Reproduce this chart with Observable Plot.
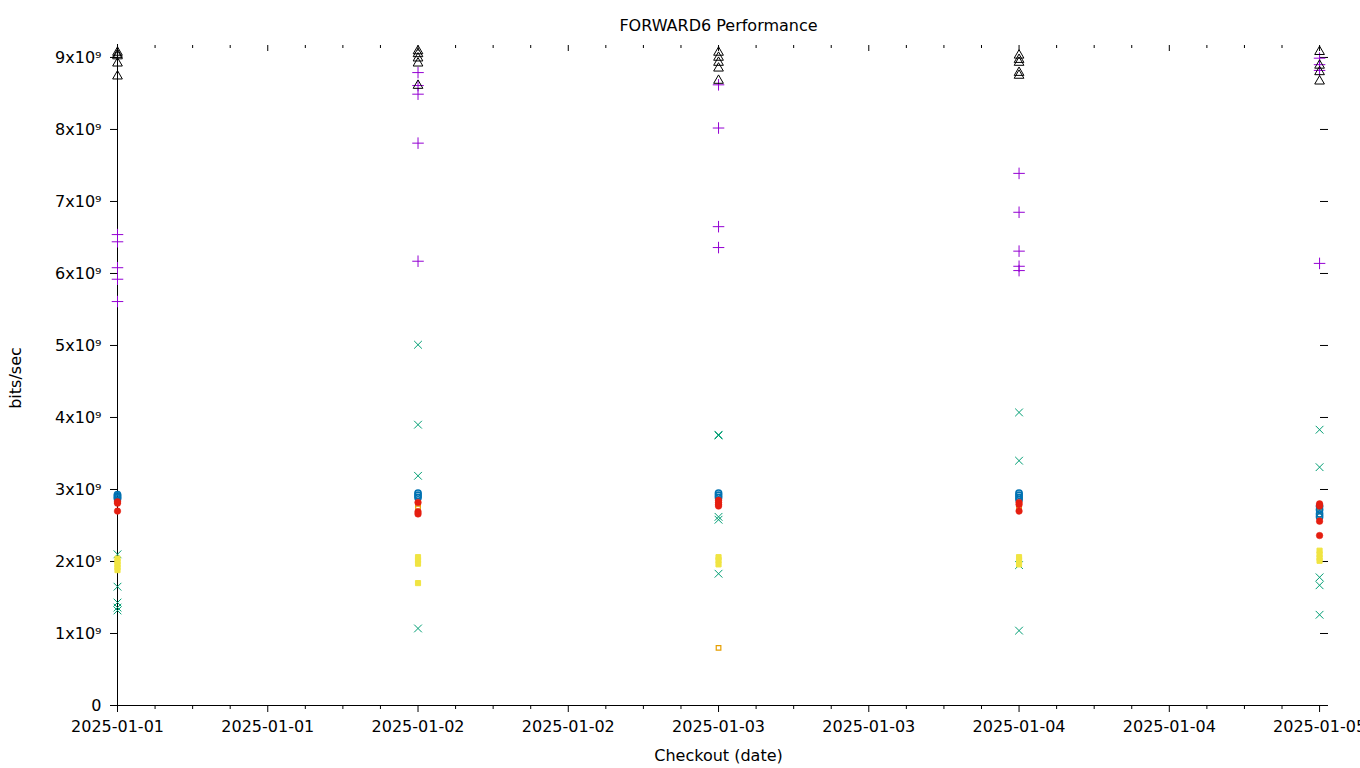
<!DOCTYPE html>
<html>
<head>
<meta charset="utf-8">
<script src="https://cdn.jsdelivr.net/npm/d3@7"></script>
<script src="https://cdn.jsdelivr.net/npm/@observablehq/plot@0.6"></script>
<style>
  body { margin: 0; background: #fff; }
</style>
</head>
<body>
<div id="chart"></div>
<script>
// ---- data (values in units of 1e9 bits/sec) ----
const dates = ["2025-01-01", "2025-01-02", "2025-01-03", "2025-01-04", "2025-01-05"];

const plusSeries = [      // purple "+"
  [6.54, 6.44, 6.08, 5.92, 5.61],
  [8.79, 8.61, 8.49, 7.81, 6.17],
  [8.62, 8.02, 6.65, 6.36],
  [7.39, 6.85, 6.31, 6.10, 6.04],
  [8.99, 8.90, 8.82, 6.14]
];
const timesSeries = [     // green "x"
  [2.10, 1.65, 1.43, 1.36, 1.32],
  [5.01, 3.90, 3.19, 1.07],
  [3.76, 3.75, 2.62, 2.58, 1.83],
  [4.07, 3.40, 1.95, 1.04],
  [3.83, 3.31, 1.78, 1.67, 1.26]
];
const openSquareSeries = [ // orange open squares
  [2.85],
  [2.80, 2.76],
  [2.84, 0.80],
  [2.80, 2.75],
  [2.70, 2.65]
];
const filledSquareSeries = [ // yellow filled squares
  [2.04, 2.00, 1.96, 1.92, 1.88],
  [2.06, 2.02, 1.97, 1.70],
  [2.06, 2.02, 1.96],
  [2.06, 2.02, 1.96],
  [2.15, 2.10, 2.05, 2.01]
];
const openCircleSeries = [ // blue open circles
  [2.93, 2.91, 2.89, 2.87],
  [2.95, 2.92, 2.89],
  [2.95, 2.92, 2.89],
  [2.95, 2.92, 2.89, 2.86],
  [2.77, 2.72, 2.66, 2.62]
];
const filledCircleSeries = [ // red filled circles
  [2.83, 2.81, 2.70],
  [2.82, 2.69, 2.66],
  [2.85, 2.82, 2.79, 2.77],
  [2.82, 2.79, 2.70],
  [2.80, 2.77, 2.56, 2.36]
];
const triangleSeries = [   // black open triangles
  [9.07, 9.04, 9.02, 8.92, 8.74],
  [9.09, 9.05, 8.99, 8.92, 8.61],
  [9.07, 9.00, 8.93, 8.85, 8.68],
  [9.03, 8.97, 8.93, 8.79, 8.75],
  [9.08, 8.89, 8.80, 8.67]
];

const yTickValues = [0, 1, 2, 3, 4, 5, 6, 7, 8, 9];

// ---- build ----
const parse = d3.utcParse("%Y-%m-%d");
const toRows = (series) => series.flatMap((vals, i) => vals.map(v => ({date: parse(dates[i]), value: v * 1e9})));

const start = parse(dates[0]);
const last = parse(dates[dates.length - 1]);
const xEnd = d3.utcMinute.offset(last, 38);

const xMajor = d3.utcHour.every(12).range(start, d3.utcMinute.offset(last, 1));
const xMinorAll = d3.utcHour.every(3).range(start, d3.utcMinute.offset(last, 1));
const xMinor = xMinorAll.filter(d => d.getUTCHours() % 12 !== 0);
const yTicks = yTickValues.map(v => v * 1e9);

const fmtX = d3.utcFormat("%Y-%m-%d");
const fmtY = v => v === 0 ? "0" : `${Math.round(v / 1e9)}x10⁹`;
const blank = () => "";

const chart = Plot.plot({
  width: 1360,
  height: 768,
  marginLeft: 117,
  marginRight: 33,
  marginTop: 44,
  marginBottom: 63,
  style: {fontFamily: "DejaVu Sans", fontSize: "16px", color: "black", background: "white"},
  x: {type: "utc", domain: [start, xEnd], axis: null},
  y: {domain: [0, 9.18e9], axis: null},
  marks: [
    Plot.axisY({anchor: "left", ticks: yTicks, tickSize: 7, tickPadding: 9, tickFormat: fmtY, label: null}),
    Plot.axisY({anchor: "right", ticks: yTicks, tickSize: 8, dx: -8, tickFormat: blank, label: null}),
    Plot.axisX({anchor: "bottom", ticks: xMajor, tickSize: 7, tickPadding: 8, tickFormat: fmtX, label: null}),
    Plot.axisX({anchor: "bottom", ticks: xMinor, tickSize: 4, tickFormat: blank, label: null}),
    Plot.axisX({anchor: "top", ticks: xMajor, tickSize: 6, dy: 6, tickFormat: blank, label: null}),
    Plot.axisX({anchor: "top", ticks: xMinor, tickSize: 3, dy: 3, tickFormat: blank, label: null}),
    Plot.ruleX([start], {stroke: "black"}),
    Plot.ruleY([0], {stroke: "black"}),
    Plot.dot(toRows(plusSeries), {x: "date", y: "value", symbol: "plus", r: 3.8, stroke: "#9400d3", strokeWidth: 1}),
    Plot.dot(toRows(timesSeries), {x: "date", y: "value", symbol: "times", r: 3.6, stroke: "#009e73", strokeWidth: 1}),
    Plot.dot(toRows(openSquareSeries), {x: "date", y: "value", symbol: "square", r: 2.6, stroke: "#e69f00", fill: "none", strokeWidth: 1.2}),
    Plot.dot(toRows(filledSquareSeries), {x: "date", y: "value", symbol: "square", r: 2.9, fill: "#f0e442", stroke: "#f0e442", strokeWidth: 1}),
    Plot.dot(toRows(openCircleSeries), {x: "date", y: "value", symbol: "circle", r: 3.1, stroke: "#0072b2", fill: "none", strokeWidth: 1.6}),
    Plot.dot(toRows(filledCircleSeries), {x: "date", y: "value", symbol: "circle", r: 3.3, fill: "#e51e10", stroke: "#e51e10", strokeWidth: 0.5}),
    Plot.dot(toRows(triangleSeries), {x: "date", y: "value", symbol: "triangle", r: 3.6, stroke: "black", fill: "none", strokeWidth: 1}),
    Plot.text(["FORWARD6 Performance"], {frameAnchor: "top", lineAnchor: "middle", dy: -19, dx: -4}),
    Plot.text(["bits/sec"], {frameAnchor: "left", textAnchor: "middle", lineAnchor: "middle", rotate: -90, dx: -102, dy: 3}),
    Plot.text(["Checkout (date)"], {frameAnchor: "bottom", lineAnchor: "middle", dy: 50, dx: -4})
  ]
});
document.getElementById("chart").appendChild(chart);
</script>
</body>
</html>
